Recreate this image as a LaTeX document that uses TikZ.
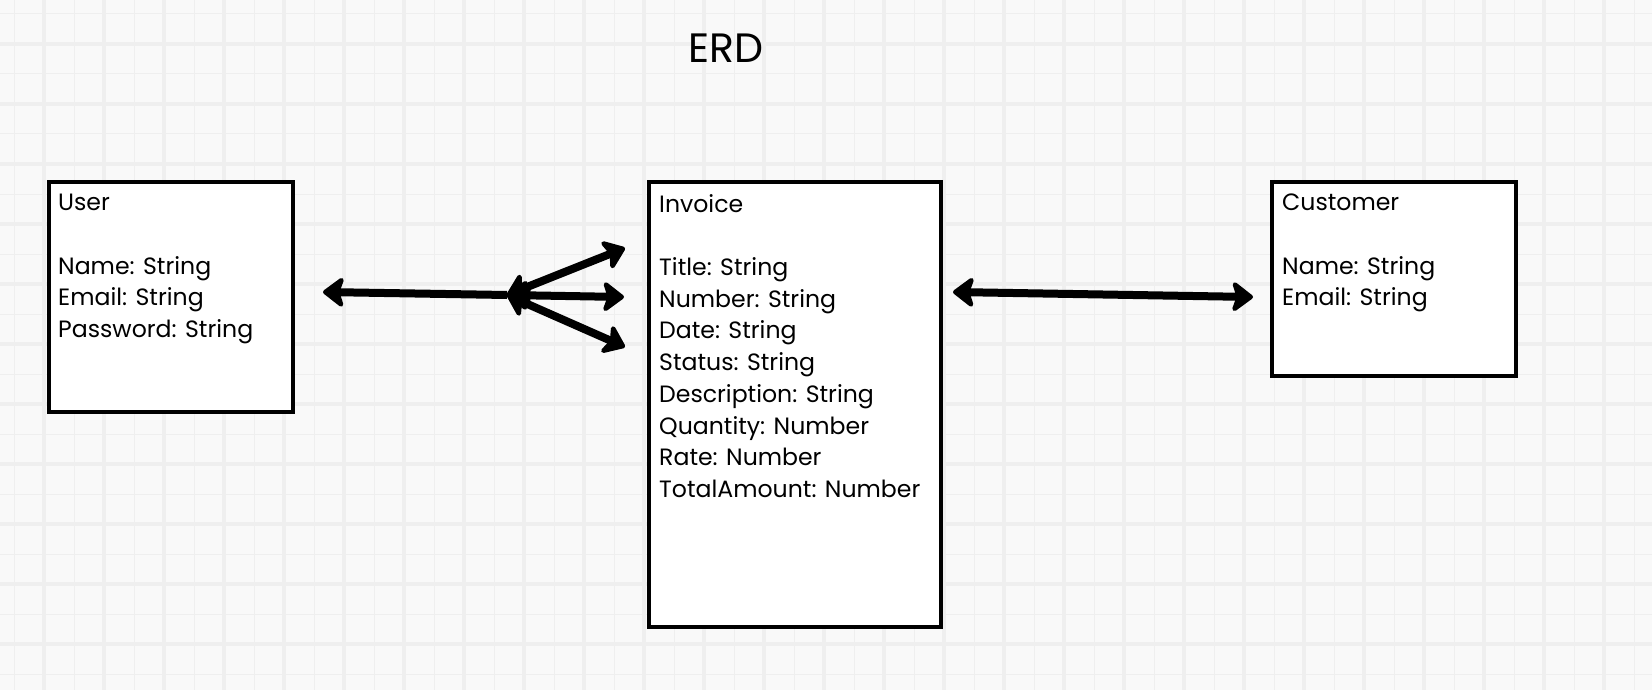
\documentclass[tikz,border=0pt]{standalone}
\usepackage{fontspec}
\setmainfont{Poppins}
\usetikzlibrary{arrows.meta}
\definecolor{paper}{HTML}{F9F9F9}
\definecolor{gridline}{HTML}{EFEFEF}
\tikzset{
  entity/.style={draw=black, line width=3.5pt, fill=white, anchor=north west, inner sep=0pt},
  fields/.style={anchor=north west, align=left, inner sep=0pt, font=\fontsize{23.6}{31.7}\selectfont},
  link/.style={line width=8pt, arrows={{Stealth[length=24pt,width=36pt,inset=6pt,round]}-{Stealth[length=24pt,width=36pt,inset=6pt,round]}}},
  linkleft/.style={line width=8pt, arrows={{Stealth[length=24pt,width=36pt,inset=6pt,round]}-}}
}
\begin{document}
\begin{tikzpicture}[x=1pt, y=-1pt]
    \useasboundingbox (0,0) rectangle (1652,690);
    % Background grid
    \fill[paper] (0,0) rectangle (1652,690);
    \foreach \g in {14,74,...,1652} \draw[gridline, line width=1pt] (\g,0) -- (\g,690);
    \foreach \g in {44,104,...,1652} \draw[gridline, line width=4pt] (\g,0) -- (\g,690);
    \foreach \g in {14,74,...,690} \draw[gridline, line width=1pt] (0,\g) -- (1652,\g);
    \foreach \g in {44,104,...,690} \draw[gridline, line width=4pt] (0,\g) -- (1652,\g);

    % Title
    \node[anchor=base, font=\fontsize{41}{48}\selectfont] (title) at (726,63) {ERD};

    % Entities with manual coordinates
    \node[entity, minimum width=244, minimum height=230] (user) at (47,180) {};
    \node[entity, minimum width=292, minimum height=445] (invoice) at (647,180) {};
    \node[entity, minimum width=244, minimum height=194] (customer) at (1270,180) {};

    \node[fields] (userfields) at (58,194) {User\\[31.7pt]Name: String\\Email: String\\Password: String};
    \node[fields] (invoicefields) at (659,194) {Invoice\\[31.7pt]Title: String\\Number: String\\Date: String\\Status: String\\Description: String\\Quantity: Number\\Rate: Number\\TotalAmount: Number};
    \node[fields] (customerfields) at (1282,194) {Customer\\[31.7pt]Name: String\\Email: String};

    % Arrow ends
    \coordinate (userend) at (323,292);
    \coordinate (hub) at (507,295);
    \coordinate (manya) at (625,248);
    \coordinate (manyb) at (624,297);
    \coordinate (manyc) at (625,347);
    \coordinate (invoiceend) at (953,292);
    \coordinate (customerend) at (1253,297);

    % Edges
    \draw[linkleft] (userend) -- (hub);
    \draw[link] (hub) -- (manya);
    \draw[link] (hub) -- (manyb);
    \draw[link] (hub) -- (manyc);
    \draw[link] (invoiceend) -- (customerend);
\end{tikzpicture}
\end{document}
